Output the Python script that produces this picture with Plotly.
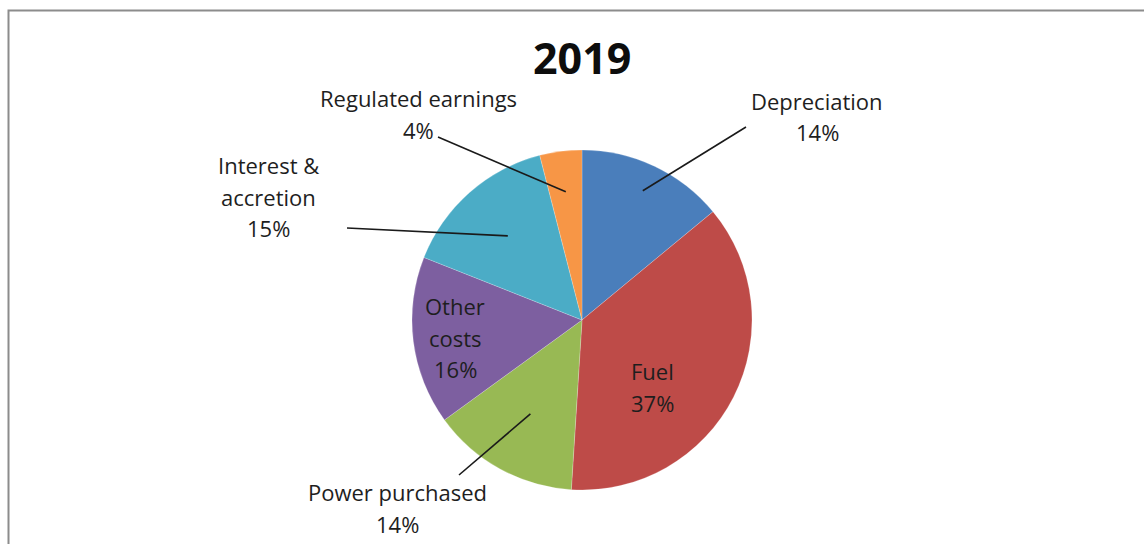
import math
import plotly.graph_objects as go

# Cost breakdown, 2019
title_text = "2019"
categories = ["Depreciation", "Fuel", "Power purchased", "Other costs",
              "Interest & accretion", "Regulated earnings"]
label_lines = [["Depreciation"], ["Fuel"], ["Power purchased"], ["Other", "costs"],
               ["Interest &", "accretion"], ["Regulated earnings"]]
shares = [14, 37, 14, 16, 15, 4]
colors = ["#4A7EBB", "#BE4B48", "#98B954", "#7D5FA0", "#4BACC6", "#F79646"]

W, H = 1144, 544
CX, CY, R = 582, 320, 170

# label layout in pixels: centre x, first-line y, leader start and how deep into the slice it reaches
placement = {
    "Depreciation": dict(x=817, y=101, lead=(746, 127), depth=0.84),
    "Fuel": dict(x=652, y=371, lead=None, depth=0),
    "Power purchased": dict(x=397, y=492, lead=(459, 475), depth=0.63),
    "Other costs": dict(x=455, y=306, lead=None, depth=0),
    "Interest & accretion": dict(x=268, y=165, lead=(347, 228), depth=0.66),
    "Regulated earnings": dict(x=418, y=98, lead=(438, 137), depth=0.76),
}
LINE_GAP = 31.5
FONT = "Open Sans"


def px(x, y):
    return x / W, 1 - y / H


fig = go.Figure(go.Pie(
    labels=categories,
    values=shares,
    sort=False,
    direction="clockwise",
    rotation=0,
    marker=dict(colors=colors, line=dict(color="rgba(255,255,255,0.35)", width=0.6)),
    textinfo="none",
    hovertemplate="%{label}: %{percent}<extra></extra>",
    showlegend=False,
    domain=dict(x=[(CX - R) / W, (CX + R) / W], y=[1 - (CY + R) / H, 1 - (CY - R) / H]),
))

annotations = []
shapes = []
total = sum(shares)
start = 0.0
for name, lines, val in zip(categories, label_lines, shares):
    frac = val / total
    mid = (start + frac / 2) * 2 * math.pi
    start += frac
    p = placement[name]
    rows = lines + [f"{round(100 * frac)}%"]
    for i, row in enumerate(rows):
        x, y = px(p["x"], p["y"] + i * LINE_GAP)
        annotations.append(dict(
            x=x, y=y, xref="paper", yref="paper", text=row, showarrow=False,
            xanchor="center", yanchor="middle",
            font=dict(family=FONT, size=22, color="#1e1e1e"),
        ))
    if p["lead"] is not None:
        ax = CX + p["depth"] * R * math.sin(mid)
        ay = CY - p["depth"] * R * math.cos(mid)
        x0, y0 = px(*p["lead"])
        x1, y1 = px(ax, ay)
        shapes.append(dict(type="line", xref="paper", yref="paper",
                           x0=x0, y0=y0, x1=x1, y1=y1,
                           line=dict(color="#1a1a1a", width=1.6)))

# chart title
tx, ty = px(582, 58)
annotations.append(dict(x=tx, y=ty, xref="paper", yref="paper", text="<b>" + title_text + "</b>",
                        showarrow=False, xanchor="center", yanchor="middle",
                        font=dict(family=FONT, size=43, color="#0d0d0d")))

# chart frame
shapes.append(dict(type="rect", xref="paper", yref="paper",
                   x0=8.5 / W, y0=-0.02, x1=1.02, y1=1 - 10.5 / H,
                   line=dict(color="#8c8c8c", width=2), fillcolor="rgba(0,0,0,0)", layer="below"))

fig.update_layout(
    width=W, height=H,
    margin=dict(l=0, r=0, t=0, b=0),
    paper_bgcolor="white", plot_bgcolor="white",
    annotations=annotations, shapes=shapes,
)

fig.write_html("out.html")
